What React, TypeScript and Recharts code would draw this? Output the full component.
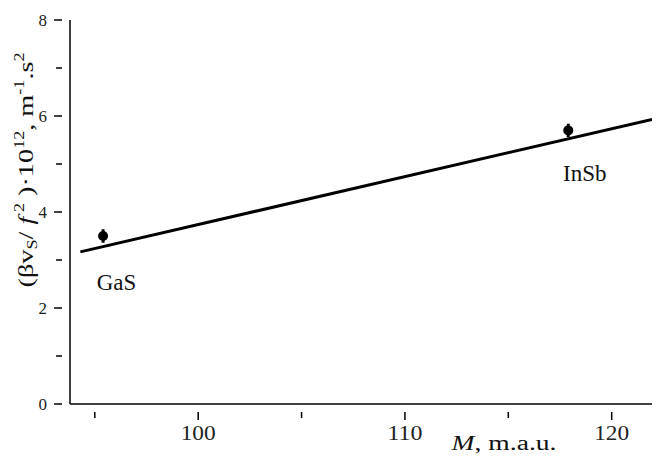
import React from 'react';
import { ComposedChart, XAxis, YAxis, Scatter, Line, ErrorBar, ReferenceDot } from 'recharts';

const materials = ['GaS', 'InSb'];
const massValues = [95.4, 117.9];
const coefValues = [3.5, 5.7];
const coefErrors = [0.14, 0.14];

const fitMass = [94.3, 121.95];
const fitCoef = [3.17, 5.93];

const labelMass = [96.05, 118.7];
const labelCoef = [2.55, 4.82];

const xTicks = [95, 100, 105, 110, 115, 120];
const xMajor = [100, 110, 120];
const yTicks = [0, 1, 2, 3, 4, 5, 6, 7, 8];
const yMajor = [0, 2, 4, 6, 8];

const points = materials.map((m, i) => ({ name: m, x: massValues[i], y: coefValues[i], err: coefErrors[i] }));
const fit = fitMass.map((x, i) => ({ x, y: fitCoef[i] }));

const FONT = '"Liberation Serif", "Times New Roman", serif';

const XTick = (props: any) => {
  const { x, y, payload } = props;
  const major = xMajor.includes(payload.value);
  return (
    <g>
      <line x1={x} y1={y} x2={x} y2={y + (major ? 8 : 6)} stroke="#000" strokeWidth={1.5} />
      {major && (
        <text x={x} y={y + 28} textAnchor="middle" fontFamily={FONT} fontSize={20} fill="#222" textLength={35} lengthAdjust="spacingAndGlyphs">
          {payload.value}
        </text>
      )}
    </g>
  );
};

const YTick = (props: any) => {
  const { x, y, payload } = props;
  const major = yMajor.includes(payload.value);
  return (
    <g>
      <line x1={x} y1={y} x2={x - (major ? 8 : 6)} y2={y} stroke="#000" strokeWidth={1.5} />
      {major && (
        <text x={x - 15} y={y + 6} textAnchor="end" fontFamily={FONT} fontSize={17} fill="#222">
          {payload.value}
        </text>
      )}
    </g>
  );
};

const YLabel = () => (
  <text
    x={0}
    y={0}
    transform="translate(33,170) rotate(-90)"
    textAnchor="middle"
    fontFamily={FONT}
    fontSize={22}
    fill="#111"
    textLength={235}
    lengthAdjust="spacingAndGlyphs"
  >
    <tspan>(βv</tspan>
    <tspan fontSize={14} dy={4}>S</tspan>
    <tspan dy={-4}>/ </tspan>
    <tspan fontStyle="italic">f</tspan>
    <tspan fontSize={14} dy={-9}> 2</tspan>
    <tspan dy={9}> )·10</tspan>
    <tspan fontSize={14} dy={-9}>12</tspan>
    <tspan dy={9}>, m</tspan>
    <tspan fontSize={14} dy={-9}>-1</tspan>
    <tspan dy={9}>.s</tspan>
    <tspan fontSize={14} dy={-9}>2</tspan>
  </text>
);

const XLabel = () => (
  <text x={504} y={450} textAnchor="middle" fontFamily={FONT} fontSize={20} fill="#111" textLength={105} lengthAdjust="spacingAndGlyphs">
    <tspan fontStyle="italic">M</tspan>
    <tspan>, m.a.u.</tspan>
  </text>
);

const Dot = (props: any) => {
  const { cx, cy } = props;
  return <circle cx={cx} cy={cy} r={5} fill="#000" />;
};

export default function App() {
  return (
    <div style={{ position: 'fixed', left: 0, top: 0, width: 656, height: 457, background: '#fff' }}>
      <ComposedChart width={656} height={457} margin={{ top: 20, right: 4, bottom: 0, left: 0 }}>
        <XAxis
          type="number"
          dataKey="x"
          domain={[93.8, 121.95]}
          allowDataOverflow
          ticks={xTicks}
          interval={0}
          height={53}
          tickLine={false}
          tick={<XTick />}
          axisLine={{ stroke: '#000', strokeWidth: 1.5 }}
        />
        <YAxis
          type="number"
          dataKey="y"
          domain={[0, 8]}
          ticks={yTicks}
          interval={0}
          width={70}
          tickLine={false}
          tick={<YTick />}
          axisLine={{ stroke: '#000', strokeWidth: 1.5 }}
        />
        <Line
          data={fit}
          dataKey="y"
          type="linear"
          stroke="#000"
          strokeWidth={3}
          dot={false}
          activeDot={false}
          isAnimationActive={false}
        />
        <Scatter data={points} dataKey="y" fill="#000" shape={<Dot />} isAnimationActive={false}>
          <ErrorBar dataKey="err" direction="y" width={0} stroke="#000" strokeWidth={3} isAnimationActive={false} />
        </Scatter>
        {materials.map((m, i) => (
          <ReferenceDot
            key={m}
            x={labelMass[i]}
            y={labelCoef[i]}
            r={0}
            fill="none"
            stroke="none"
            label={{ value: m, position: 'center', fontFamily: FONT, fontSize: 23, fill: '#111' }}
          />
        ))}
        <YLabel />
        <XLabel />
      </ComposedChart>
    </div>
  );
}
